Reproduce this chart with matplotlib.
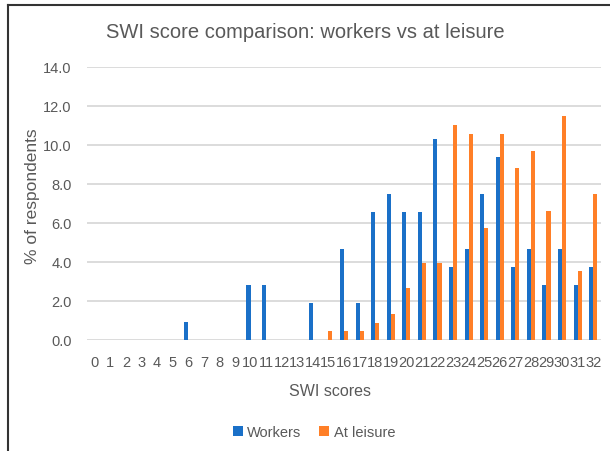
import numpy as np
import matplotlib
matplotlib.use("Agg")
import matplotlib.pyplot as plt
from matplotlib.lines import Line2D

### Data (% of respondents per SWI score)
scores = list(range(0, 33))
workers = [0, 0, 0, 0, 0, 0, 0.93, 0, 0, 0, 2.80, 2.80, 0, 0, 1.87, 0,
           4.67, 1.87, 6.54, 7.48, 6.54, 6.54, 10.28, 3.74, 4.67, 7.48,
           9.35, 3.74, 4.67, 2.80, 4.67, 2.80, 3.74]
leisure = [0, 0, 0, 0, 0, 0, 0, 0, 0, 0, 0, 0, 0, 0, 0, 0.44,
           0.44, 0.44, 0.88, 1.32, 2.64, 3.96, 3.96, 11.01, 10.57, 5.73,
           10.57, 8.81, 9.69, 6.61, 11.45, 3.52, 7.49]
yticks = [0, 2, 4, 6, 8, 10, 12, 14]

### Style
blue = "#1A70C8"
orange = "#FF7F27"
grey = "#595959"
plt.rcParams["font.family"] = ["Liberation Sans", "DejaVu Sans"]

fig = plt.figure(figsize=(6.1, 4.52), dpi=100)
ax = fig.add_axes([87 / 610, 1 - 341 / 452, 514 / 610, (341 - 67.7) / 452])

x = np.arange(len(scores))
w = 0.26
ax.bar(x - w / 2, workers, w, color=blue, label="Workers", zorder=3)
ax.bar(x + w / 2, leisure, w, color=orange, label="At leisure", zorder=3)

ax.set_xlim(-0.5, len(scores) - 0.5)
ax.set_ylim(0, 14)
ax.set_yticks(yticks)
ax.set_yticklabels([f"{v:.1f}" for v in yticks])
ax.set_xticks(x)
ax.set_xticklabels([str(s) for s in scores])
ax.yaxis.grid(True, color="#D9D9D9", lw=1.3, zorder=0)
for s in ax.spines.values():
    s.set_visible(False)
ax.tick_params(axis="both", length=0, colors=grey, labelsize=10.5)
ax.tick_params(axis="y", pad=11)
ax.tick_params(axis="x", pad=11)

fig.text(305 / 610, 1 - 33 / 452, "SWI score comparison: workers vs at leisure",
         ha="center", va="center", fontsize=14.5, color=grey)
fig.text(330 / 610, 1 - 392 / 452, "SWI scores", ha="center", va="center",
         fontsize=11.5, color=grey)
fig.text(33 / 610, 1 - 196 / 452, "% of respondents", ha="center", va="center",
         rotation=90, fontsize=12.5, color=grey)

fig.legend(loc="center", bbox_to_anchor=(314 / 610, 1 - 433 / 452), ncol=2,
           frameon=False, fontsize=10.5, labelcolor=grey, handlelength=0.7,
           handleheight=0.7, handletextpad=0.3, columnspacing=1.2)

# chart frame (left and top edges only)
fig.add_artist(Line2D([7.5 / 610, 7.5 / 610], [0, 1 - 6 / 452],
                      color="#333333", lw=1.5, transform=fig.transFigure))
fig.add_artist(Line2D([7.5 / 610, 1], [1 - 6 / 452, 1 - 6 / 452],
                      color="#333333", lw=1.5, transform=fig.transFigure))

fig.savefig("out.png", dpi=100)
